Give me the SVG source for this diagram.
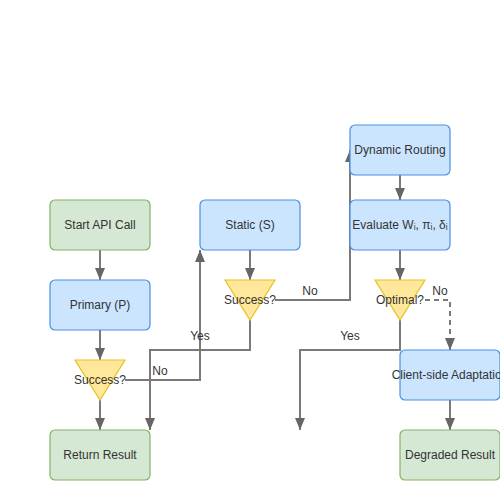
<svg xmlns="http://www.w3.org/2000/svg" width="500" height="500" viewBox="0 0 500 500">
<defs>
<marker id="arr" markerWidth="12" markerHeight="10" refX="12" refY="5" orient="auto" markerUnits="userSpaceOnUse">
<path d="M0,0 L12,5 L0,10 Z" fill="#666"/>
</marker>
<style>
.edge{fill:none;stroke:#7a7a7a;stroke-width:2;marker-end:url(#arr)}
.dash{stroke-dasharray:5,4}
.green{fill:#d5e8d4;stroke:#82b366;stroke-width:1.2}
.blue{fill:#cce5ff;stroke:#4a90e2;stroke-width:1.2}
.dec{fill:#ffe899;stroke:#e6c229;stroke-width:1.2}
text{font-family:"Liberation Sans",Arial,sans-serif;font-size:12px;fill:#333;text-anchor:middle;dominant-baseline:central}
</style>
</defs>
<rect width="500" height="500" fill="#fff"/>
<g id="connectors">
<path class="edge" d="M100,250 L100,280"/>
<path class="edge" d="M100,330 L100,360"/>
<path class="edge" d="M100,400 L100,430"/>
<path class="edge" d="M125,380 L200,380 L200,250"/>
<text x="160" y="371">No</text>
<path class="edge" d="M250,250 L250,280"/>
<path class="edge" d="M250,320 L250,350 L150,350 L150,430"/>
<text x="200" y="336">Yes</text>
<path class="edge" d="M275,300 L350,300 L350,150"/>
<text x="310" y="291">No</text>
<path class="edge" d="M400,175 L400,200"/>
<path class="edge" d="M400,250 L400,280"/>
<path class="edge" d="M400,320 L400,350 L300,350 L300,430"/>
<text x="350" y="336">Yes</text>
<path class="edge dash" d="M425,300 L450,300 L450,350"/>
<text x="440" y="291">No</text>
<path class="edge" d="M450,400 L450,430"/>
</g>
<g id="start"><rect class="green" x="50" y="200" width="100" height="50" rx="5"/><text x="100" y="225">Start API Call</text></g>
<g id="primary"><rect class="blue" x="50" y="280" width="100" height="50" rx="5"/><text x="100" y="305">Primary (P)</text></g>
<g id="success1"><path class="dec" d="M75,360 L125,360 L100,400 Z"/><text x="100" y="380">Success?</text></g>
<g id="return"><rect class="green" x="50" y="430" width="100" height="50" rx="5"/><text x="100" y="455">Return Result</text></g>
<g id="static"><rect class="blue" x="200" y="200" width="100" height="50" rx="5"/><text x="250" y="225">Static (S)</text></g>
<g id="success2"><path class="dec" d="M225,280 L275,280 L250,320 Z"/><text x="250" y="300">Success?</text></g>
<g id="dynamic"><rect class="blue" x="350" y="125" width="100" height="50" rx="5"/><text x="400" y="150">Dynamic Routing</text></g>
<g id="evaluate"><rect class="blue" x="350" y="200" width="100" height="50" rx="5"/><text x="400" y="225">Evaluate Wᵢ, πᵢ, δᵢ</text></g>
<g id="optimal"><path class="dec" d="M375,280 L425,280 L400,320 Z"/><text x="400" y="300">Optimal?</text></g>
<g id="client"><rect class="blue" x="400" y="350" width="100" height="50" rx="5"/><text x="450" y="375">Client-side Adaptation</text></g>
<g id="degraded"><rect class="green" x="400" y="430" width="100" height="50" rx="5"/><text x="450" y="455">Degraded Result</text></g>
</svg>
